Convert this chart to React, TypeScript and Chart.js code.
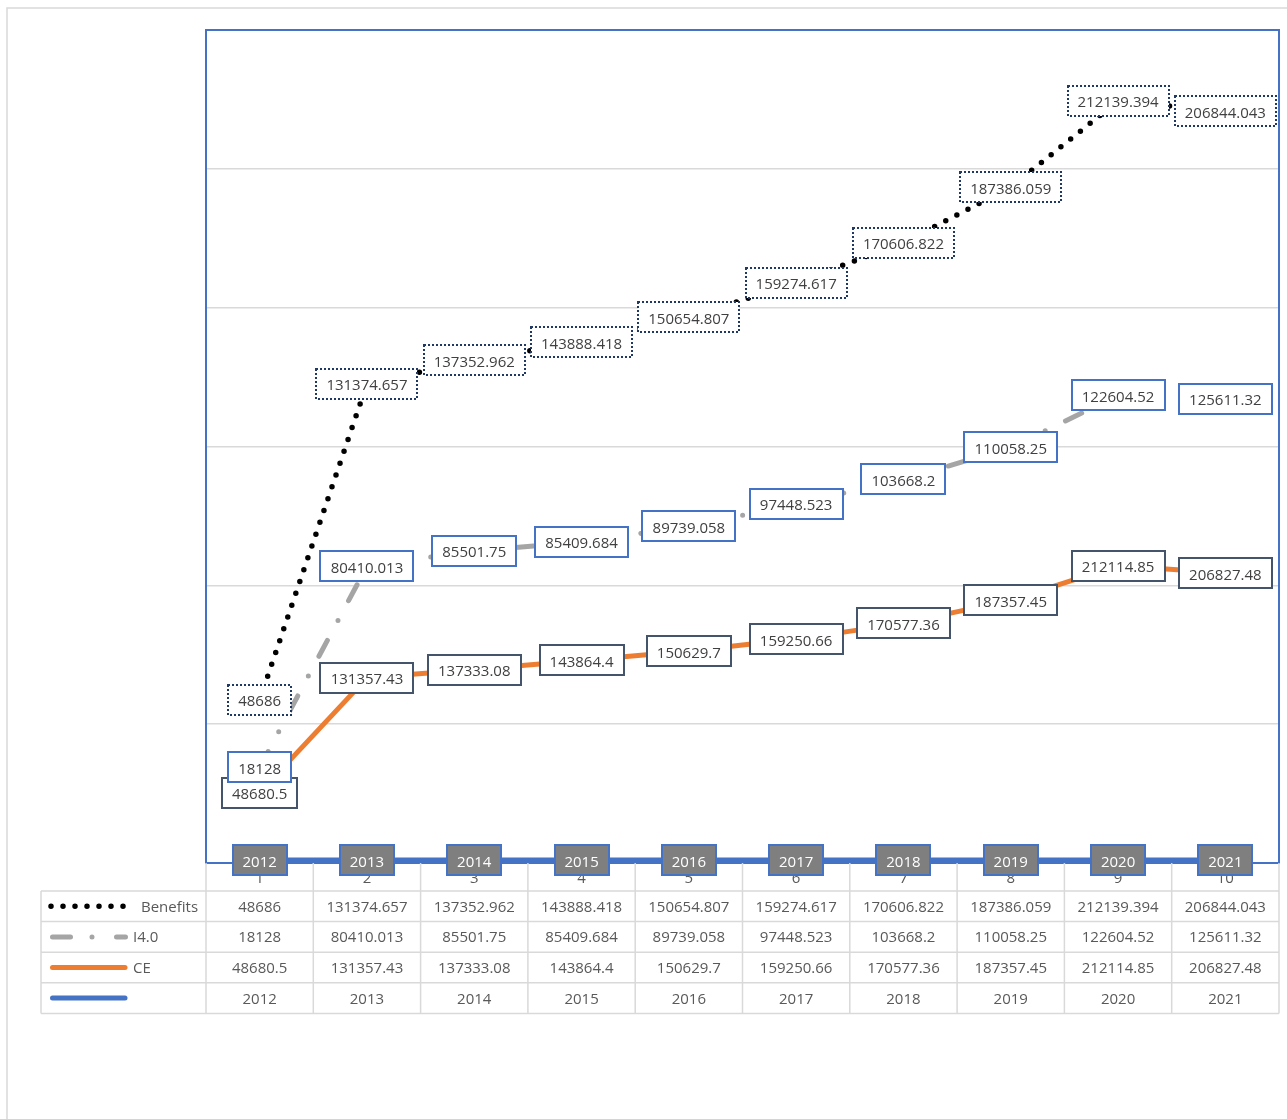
import React, { useEffect, useRef } from 'react';
import { Chart, registerables } from 'chart.js';

Chart.register(...registerables);

// ---- data ----
const categories = ['1', '2', '3', '4', '5', '6', '7', '8', '9', '10'];
const yearLabels = ['2012', '2013', '2014', '2015', '2016', '2017', '2018', '2019', '2020', '2021'];
const benefits = [48686, 131374.657, 137352.962, 143888.418, 150654.807, 159274.617, 170606.822, 187386.059, 212139.394, 206844.043];
const i40 = [18128, 80410.013, 85501.75, 85409.684, 89739.058, 97448.523, 103668.2, 110058.25, 122604.52, 125611.32];
const ce = [48680.5, 131357.43, 137333.08, 143864.4, 150629.7, 159250.66, 170577.36, 187357.45, 212114.85, 206827.48];
const yearSeries = [2012, 2013, 2014, 2015, 2016, 2017, 2018, 2019, 2020, 2021];
const seriesNames = ['Benefits', 'I4.0', 'CE', ''];

// ---- layout (page coords offset) ----
const OX = 6;
const OY = 7;
const W = 1281;
const H = 1112;
const FONT = '15px "Open Sans"';
const TEXT = '#595959';
const GRID = '#D9D9D9';
const BLUE = '#4472C4';

// label styles per dataset index (dataset order: year, CE, I4.0, Benefits)
const labelStyles = [
  { fill: '#7F7F7F', border: BLUE, dash: [] as number[], text: '#FFFFFF' },
  { fill: '#FFFFFF', border: '#44546A', dash: [] as number[], text: '#404040' },
  { fill: '#FFFFFF', border: BLUE, dash: [] as number[], text: '#404040' },
  { fill: '#FFFFFF', border: '#203864', dash: [2, 2], text: '#404040' },
];

const tablePlugin = {
  id: 'tableAndFrame',
  beforeDraw(chart: any) {
    const ctx = chart.ctx;
    ctx.save();
    ctx.fillStyle = '#FFFFFF';
    ctx.fillRect(0, 0, chart.width, chart.height);
    ctx.strokeStyle = GRID;
    ctx.lineWidth = 1.5;
    ctx.beginPath();
    ctx.moveTo(1, chart.height);
    ctx.lineTo(1, 1);
    ctx.lineTo(chart.width, 1);
    ctx.stroke();
    ctx.restore();
  },
  beforeDatasetsDraw(chart: any) {
    const ctx = chart.ctx;
    const area = chart.chartArea;
    const xs = chart.scales.x;
    const n = categories.length;
    const centers = categories.map((_, i) => xs.getPixelForValue(i));
    const bounds: number[] = [area.left];
    for (let i = 0; i < n - 1; i++) bounds.push((centers[i] + centers[i + 1]) / 2);
    bounds.push(area.right);

    const headTop = area.bottom;
    const headH = 28;
    const rowH = 30.6;
    const rowTops = [0, 1, 2, 3, 4].map((r) => headTop + headH + r * rowH);
    const tableLeft = 41 - OX;
    const tableBottom = rowTops[4];

    ctx.save();
    // plot frame
    ctx.strokeStyle = BLUE;
    ctx.lineWidth = 2;
    ctx.strokeRect(area.left, area.top, area.right - area.left, area.bottom - area.top);

    // table grid
    ctx.strokeStyle = GRID;
    ctx.lineWidth = 1.5;
    ctx.beginPath();
    bounds.forEach((bx) => {
      ctx.moveTo(bx, headTop);
      ctx.lineTo(bx, tableBottom);
    });
    ctx.moveTo(tableLeft, rowTops[0]);
    ctx.lineTo(tableLeft, tableBottom);
    rowTops.forEach((ry) => {
      ctx.moveTo(tableLeft, ry);
      ctx.lineTo(area.right, ry);
    });
    ctx.stroke();

    // header numbers
    ctx.font = FONT;
    ctx.fillStyle = TEXT;
    ctx.textAlign = 'center';
    ctx.textBaseline = 'alphabetic';
    centers.forEach((cx, i) => {
      ctx.fillText(categories[i], cx, headTop + headH / 2 + 6);
    });

    // rows
    const rows = [benefits, i40, ce, yearSeries];
    rows.forEach((vals, r) => {
      const cy = rowTops[r] + rowH / 2;
      ctx.textAlign = 'center';
      ctx.fillStyle = TEXT;
      vals.forEach((v, i) => ctx.fillText(String(v), centers[i], cy + 5.5));
    });

    // legend keys
    const ky = (r: number) => rowTops[r] + rowH / 2;
    ctx.lineCap = 'round';
    // Benefits dots
    ctx.strokeStyle = '#000000';
    ctx.lineWidth = 5.5;
    ctx.setLineDash([0, 12]);
    ctx.beginPath();
    ctx.moveTo(51 - OX, ky(0));
    ctx.lineTo(123.2 - OX, ky(0));
    ctx.stroke();
    // I4.0 dash dot
    ctx.strokeStyle = '#A5A5A5';
    ctx.lineWidth = 5;
    ctx.setLineDash([18, 21.5, 0, 24.5]);
    ctx.beginPath();
    ctx.moveTo(52.5 - OX, ky(1));
    ctx.lineTo(125.5 - OX, ky(1));
    ctx.stroke();
    ctx.setLineDash([]);
    // CE
    ctx.strokeStyle = '#ED7D31';
    ctx.lineWidth = 5;
    ctx.beginPath();
    ctx.moveTo(52.5 - OX, ky(2));
    ctx.lineTo(125 - OX, ky(2));
    ctx.stroke();
    // year
    ctx.strokeStyle = BLUE;
    ctx.beginPath();
    ctx.moveTo(52.5 - OX, ky(3));
    ctx.lineTo(125 - OX, ky(3));
    ctx.stroke();

    // legend names
    ctx.fillStyle = TEXT;
    ctx.textAlign = 'left';
    const nameX = [141, 133, 133, 133];
    seriesNames.forEach((nm, r) => {
      if (nm) ctx.fillText(nm, nameX[r] - OX, ky(r) + 5.5);
    });
    ctx.restore();
  },
  afterDatasetsDraw(chart: any) {
    const ctx = chart.ctx;
    ctx.save();
    ctx.font = FONT;
    chart.data.datasets.forEach((ds: any, di: number) => {
      const meta = chart.getDatasetMeta(di);
      const st = labelStyles[di];
      const texts: string[] = di === 0 ? yearLabels : ds.data.map((v: number) => String(v));
      meta.data.forEach((pt: any, i: number) => {
        const text = texts[i];
        const w = Math.round(ctx.measureText(text).width + 20);
        const h = 30;
        const x = Math.round(pt.x - w / 2);
        const y = Math.round(pt.y - h / 2);
        ctx.fillStyle = st.fill;
        ctx.fillRect(x, y, w, h);
        ctx.setLineDash(st.dash);
        ctx.lineWidth = 2;
        ctx.strokeStyle = st.border;
        ctx.strokeRect(x, y, w, h);
        ctx.setLineDash([]);
        ctx.fillStyle = st.text;
        ctx.textAlign = 'center';
        ctx.textBaseline = 'alphabetic';
        ctx.fillText(text, pt.x, pt.y + 6.5);
      });
    });
    ctx.restore();
  },
};

export default function App() {
  const ref = useRef<HTMLCanvasElement | null>(null);
  useEffect(() => {
    if (!ref.current) return;
    const chart = new Chart(ref.current, {
      type: 'line',
      data: {
        labels: categories,
        datasets: [
          {
            label: 'Year',
            data: yearSeries,
            borderColor: BLUE,
            borderWidth: 5.5,
            pointRadius: 0,
            tension: 0,
            fill: false,
          },
          {
            label: 'CE',
            data: ce,
            borderColor: '#ED7D31',
            borderWidth: 5,
            pointRadius: 0,
            tension: 0,
            fill: false,
            borderJoinStyle: 'round',
          },
          {
            label: 'I4.0',
            data: i40,
            borderColor: '#A5A5A5',
            borderWidth: 5,
            borderDash: [18, 22.5, 0, 22.5],
            borderCapStyle: 'round',
            pointRadius: 0,
            tension: 0,
            fill: false,
          },
          {
            label: 'Benefits',
            data: benefits,
            borderColor: '#000000',
            borderWidth: 5.5,
            borderDash: [0, 12.5],
            borderCapStyle: 'round',
            pointRadius: 0,
            tension: 0,
            fill: false,
          },
        ],
      },
      options: {
        responsive: false,
        animation: false,
        events: [],
        layout: {
          autoPadding: false,
          padding: { left: 206 - OX, top: 30 - OY, right: W - (1279 - OX), bottom: H - (863 - OY) },
        },
        plugins: {
          legend: { display: false },
          tooltip: { enabled: false },
          title: { display: false },
        },
        scales: {
          x: { type: 'category', offset: true, display: false },
          y: {
            stacked: true,
            min: 0,
            max: 600000,
            ticks: { display: false, stepSize: 100000 },
            grid: { color: GRID, lineWidth: 1.5, drawTicks: false },
            border: { display: false },
          },
        },
      },
      plugins: [tablePlugin],
    } as any);
    return () => chart.destroy();
  }, []);

  return (
    <div style={{ position: 'fixed', left: OX, top: OY, width: W, height: H, overflow: 'hidden', background: '#fff' }}>
      <canvas ref={ref} width={W} height={H} style={{ display: 'block', width: W, height: H }} />
    </div>
  );
}
